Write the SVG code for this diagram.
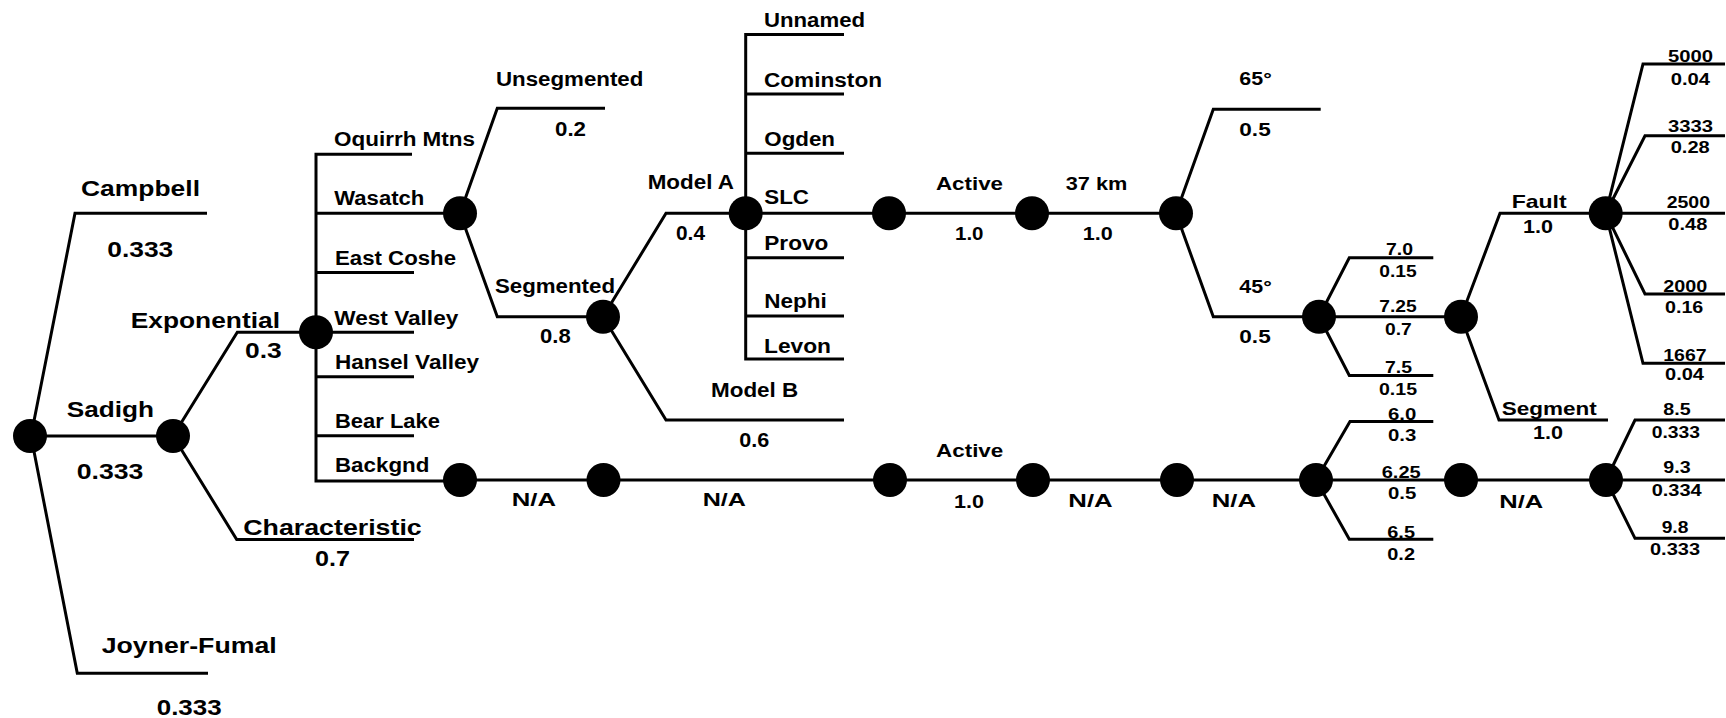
<svg xmlns="http://www.w3.org/2000/svg" width="1726" height="718" viewBox="0 0 1726 718">
  <style>
    .ln { fill: none; stroke: #000; stroke-width: 3; stroke-linejoin: miter; stroke-linecap: butt; }
    .nd { fill: #000; }
    text { font-family: "Liberation Sans", Arial, Helvetica, sans-serif; font-weight: bold; fill: #000; }
    .xl { font-size: 22px; }
    .lg { font-size: 20px; }
    .md { font-size: 19px; }
    .sm { font-size: 16px; }
  </style>
  <rect width="1726" height="718" fill="#fff"/>

  <!-- branch lines -->
  <g id="connectors" class="ln">
    <!-- attenuation models -->
    <path d="M31 436 L75 213.3 H207"/>
    <path d="M30 436 H173"/>
    <path d="M31 436 L77.3 673.3 H208"/>
    <!-- magnitude distribution -->
    <path d="M173 436 L237.3 332.3 H316"/>
    <path d="M173 436 L236.7 539.5 H414"/>
    <!-- source list -->
    <path d="M412 154.3 H316 V481 H460"/>
    <path d="M316 213.3 H460"/>
    <path d="M316 272.5 H414"/>
    <path d="M316 332.3 H414"/>
    <path d="M316 376.7 H414"/>
    <path d="M316 435.7 H414"/>
    <!-- segmentation -->
    <path d="M460 213.3 L497.3 108.3 H605"/>
    <path d="M460 213.3 L497.3 316.7 H603"/>
    <path d="M603 316.7 L666 213.3 H745.7"/>
    <path d="M603 316.7 L666 420 H844"/>
    <!-- segments -->
    <path d="M844 34.5 H745.7 V359 H844"/>
    <path d="M745.7 94 H844"/>
    <path d="M745.7 153.3 H844"/>
    <path d="M745.7 257.7 H844"/>
    <path d="M745.7 316 H844"/>
    <!-- SLC chain -->
    <path d="M745.7 213.3 H1176"/>
    <path d="M1176 213.3 L1213.3 109.3 H1320.7"/>
    <path d="M1176 213.3 L1213.3 316.7 H1319"/>
    <path d="M1319 316.7 L1349.3 257.7 H1433.3"/>
    <path d="M1319 316.7 H1461"/>
    <path d="M1319 316.7 L1349.3 375.5 H1433.3"/>
    <path d="M1461 316.7 L1500 213.3 H1605.7"/>
    <path d="M1461 316.7 L1499 420 H1608"/>
    <path d="M1605.7 213.3 L1643 64 H1725"/>
    <path d="M1605.7 213.3 L1645 135.7 H1725"/>
    <path d="M1605.7 213.3 H1725"/>
    <path d="M1605.7 213.3 L1645 294 H1725"/>
    <path d="M1605.7 213.3 L1643 363.3 H1725"/>
    <!-- background chain -->
    <path d="M460 480 H1316"/>
    <path d="M1316 480 L1350 421.5 H1433.3"/>
    <path d="M1316 480 H1606"/>
    <path d="M1316 480 L1349.3 539.3 H1433.3"/>
    <path d="M1606 480 L1635 420 H1725"/>
    <path d="M1606 480 H1725"/>
    <path d="M1606 480 L1635 538.3 H1725"/>
  </g>

  <!-- chance nodes -->
  <g id="node-root"><circle class="nd" cx="30" cy="436" r="17"/></g>
  <g id="node-sadigh"><circle class="nd" cx="173" cy="436" r="17"/></g>
  <g id="node-exponential"><circle class="nd" cx="316" cy="332.3" r="17"/></g>
  <g id="node-wasatch"><circle class="nd" cx="460" cy="213.3" r="17"/></g>
  <g id="node-segmented"><circle class="nd" cx="603" cy="316.7" r="17"/></g>
  <g id="node-model-a"><circle class="nd" cx="745.7" cy="213.3" r="17"/></g>
  <g id="node-slc"><circle class="nd" cx="889" cy="213.3" r="17"/></g>
  <g id="node-active"><circle class="nd" cx="1032" cy="213.3" r="17"/></g>
  <g id="node-width"><circle class="nd" cx="1176" cy="213.3" r="17"/></g>
  <g id="node-dip45"><circle class="nd" cx="1319" cy="316.7" r="17"/></g>
  <g id="node-mag"><circle class="nd" cx="1461" cy="316.7" r="17"/></g>
  <g id="node-fault"><circle class="nd" cx="1605.7" cy="213.3" r="17"/></g>
  <g id="node-backgnd"><circle class="nd" cx="460" cy="480" r="17"/></g>
  <g id="node-bg-seg"><circle class="nd" cx="603.5" cy="480" r="17"/></g>
  <g id="node-bg-model"><circle class="nd" cx="890" cy="480" r="17"/></g>
  <g id="node-bg-active"><circle class="nd" cx="1033" cy="480" r="17"/></g>
  <g id="node-bg-width"><circle class="nd" cx="1177" cy="480" r="17"/></g>
  <g id="node-bg-dip"><circle class="nd" cx="1316" cy="480" r="17"/></g>
  <g id="node-bg-mag"><circle class="nd" cx="1461" cy="480" r="17"/></g>
  <g id="node-bg-rate"><circle class="nd" cx="1606" cy="480" r="17"/></g>

  <!-- branch labels and weights -->
  <g id="labels-attenuation" class="xl">
    <text x="81" y="196" textLength="119" lengthAdjust="spacingAndGlyphs">Campbell</text>
    <text x="107.3" y="257" textLength="66" lengthAdjust="spacingAndGlyphs">0.333</text>
    <text x="66.7" y="416.7" textLength="87.3" lengthAdjust="spacingAndGlyphs">Sadigh</text>
    <text x="76.7" y="479" textLength="66.6" lengthAdjust="spacingAndGlyphs">0.333</text>
    <text x="101.7" y="653" textLength="175" lengthAdjust="spacingAndGlyphs">Joyner-Fumal</text>
    <text x="156.7" y="715" textLength="65" lengthAdjust="spacingAndGlyphs">0.333</text>
  </g>
  <g id="labels-magnitude" class="xl">
    <text x="130.7" y="328" textLength="149.3" lengthAdjust="spacingAndGlyphs">Exponential</text>
    <text x="245" y="358" textLength="36.7" lengthAdjust="spacingAndGlyphs">0.3</text>
    <text x="243.3" y="535" textLength="178.4" lengthAdjust="spacingAndGlyphs">Characteristic</text>
    <text x="315" y="566" textLength="35" lengthAdjust="spacingAndGlyphs">0.7</text>
  </g>
  <g id="labels-sources" class="lg">
    <text x="334" y="146" textLength="141" lengthAdjust="spacingAndGlyphs">Oquirrh Mtns</text>
    <text x="334.3" y="205" textLength="90" lengthAdjust="spacingAndGlyphs">Wasatch</text>
    <text x="335" y="265" textLength="121" lengthAdjust="spacingAndGlyphs">East Coshe</text>
    <text x="334.3" y="325" textLength="124" lengthAdjust="spacingAndGlyphs">West Valley</text>
    <text x="335" y="369" textLength="144" lengthAdjust="spacingAndGlyphs">Hansel Valley</text>
    <text x="335" y="427.7" textLength="105" lengthAdjust="spacingAndGlyphs">Bear Lake</text>
    <text x="335" y="472.3" textLength="94.3" lengthAdjust="spacingAndGlyphs">Backgnd</text>
  </g>
  <g id="labels-segmentation" class="lg">
    <text x="496" y="86" textLength="147.3" lengthAdjust="spacingAndGlyphs">Unsegmented</text>
    <text x="555" y="136" textLength="31" lengthAdjust="spacingAndGlyphs">0.2</text>
    <text x="495" y="293.3" textLength="120" lengthAdjust="spacingAndGlyphs">Segmented</text>
    <text x="540" y="343.3" textLength="30.7" lengthAdjust="spacingAndGlyphs">0.8</text>
    <text x="647.7" y="189.3" textLength="86.3" lengthAdjust="spacingAndGlyphs">Model A</text>
    <text x="676" y="240" textLength="29" lengthAdjust="spacingAndGlyphs">0.4</text>
    <text x="711" y="397.3" textLength="87.3" lengthAdjust="spacingAndGlyphs">Model B</text>
    <text x="739.3" y="447.3" textLength="30" lengthAdjust="spacingAndGlyphs">0.6</text>
  </g>
  <g id="labels-segments" class="lg">
    <text x="764" y="27.3" textLength="101" lengthAdjust="spacingAndGlyphs">Unnamed</text>
    <text x="764" y="86.5" textLength="118" lengthAdjust="spacingAndGlyphs">Cominston</text>
    <text x="764.3" y="145.5" textLength="70.7" lengthAdjust="spacingAndGlyphs">Ogden</text>
    <text x="764.3" y="203.5" textLength="44.7" lengthAdjust="spacingAndGlyphs">SLC</text>
    <text x="764.3" y="249.5" textLength="64" lengthAdjust="spacingAndGlyphs">Provo</text>
    <text x="764.3" y="307.8" textLength="62.5" lengthAdjust="spacingAndGlyphs">Nephi</text>
    <text x="764" y="352.8" textLength="67" lengthAdjust="spacingAndGlyphs">Levon</text>
  </g>
  <g id="labels-slc" class="md">
    <text x="936" y="190" textLength="67" lengthAdjust="spacingAndGlyphs">Active</text>
    <text x="955" y="240" textLength="28.5" lengthAdjust="spacingAndGlyphs">1.0</text>
    <text x="1065.7" y="190" textLength="61.6" lengthAdjust="spacingAndGlyphs">37 km</text>
    <text x="1082.7" y="240" textLength="30" lengthAdjust="spacingAndGlyphs">1.0</text>
    <text x="1239.3" y="85" textLength="32.4" lengthAdjust="spacingAndGlyphs">65°</text>
    <text x="1239.3" y="136" textLength="31.4" lengthAdjust="spacingAndGlyphs">0.5</text>
    <text x="1239.3" y="293.3" textLength="32.4" lengthAdjust="spacingAndGlyphs">45°</text>
    <text x="1239.3" y="343.3" textLength="31.4" lengthAdjust="spacingAndGlyphs">0.5</text>
  </g>
  <g id="labels-slc-mag" class="sm">
    <text x="1386" y="255" textLength="27" lengthAdjust="spacingAndGlyphs">7.0</text>
    <text x="1379.3" y="277.3" textLength="37.4" lengthAdjust="spacingAndGlyphs">0.15</text>
    <text x="1379.3" y="311.7" textLength="37.4" lengthAdjust="spacingAndGlyphs">7.25</text>
    <text x="1385" y="335" textLength="26.7" lengthAdjust="spacingAndGlyphs">0.7</text>
    <text x="1385" y="373" textLength="27" lengthAdjust="spacingAndGlyphs">7.5</text>
    <text x="1379" y="395" textLength="38" lengthAdjust="spacingAndGlyphs">0.15</text>
  </g>
  <g id="labels-slc-type">
    <text class="md" x="1511.7" y="207.7" textLength="55" lengthAdjust="spacingAndGlyphs">Fault</text>
    <text class="md" x="1523" y="232.7" textLength="30" lengthAdjust="spacingAndGlyphs">1.0</text>
    <text class="md" x="1501.7" y="415" textLength="95" lengthAdjust="spacingAndGlyphs">Segment</text>
    <text class="md" x="1533" y="439.3" textLength="30" lengthAdjust="spacingAndGlyphs">1.0</text>
  </g>
  <g id="labels-slc-rate" class="sm">
    <text x="1668" y="61.7" textLength="45" lengthAdjust="spacingAndGlyphs">5000</text>
    <text x="1670.7" y="85" textLength="39.3" lengthAdjust="spacingAndGlyphs">0.04</text>
    <text x="1668" y="131.7" textLength="45" lengthAdjust="spacingAndGlyphs">3333</text>
    <text x="1670.7" y="153.3" textLength="39" lengthAdjust="spacingAndGlyphs">0.28</text>
    <text x="1666.7" y="208.3" textLength="43.3" lengthAdjust="spacingAndGlyphs">2500</text>
    <text x="1668.3" y="230" textLength="39" lengthAdjust="spacingAndGlyphs">0.48</text>
    <text x="1663.3" y="291.7" textLength="44" lengthAdjust="spacingAndGlyphs">2000</text>
    <text x="1665" y="312.7" textLength="38.3" lengthAdjust="spacingAndGlyphs">0.16</text>
    <text x="1663.3" y="360.7" textLength="43.3" lengthAdjust="spacingAndGlyphs">1667</text>
    <text x="1665" y="380" textLength="39" lengthAdjust="spacingAndGlyphs">0.04</text>
  </g>
  <g id="labels-background" class="md">
    <text x="511.7" y="505.7" textLength="44.3" lengthAdjust="spacingAndGlyphs">N/A</text>
    <text x="702.7" y="505.7" textLength="43.3" lengthAdjust="spacingAndGlyphs">N/A</text>
    <text x="936" y="457.3" textLength="67.3" lengthAdjust="spacingAndGlyphs">Active</text>
    <text x="954" y="508.3" textLength="30" lengthAdjust="spacingAndGlyphs">1.0</text>
    <text x="1068.3" y="506.7" textLength="44.4" lengthAdjust="spacingAndGlyphs">N/A</text>
    <text x="1211.7" y="506.7" textLength="44.3" lengthAdjust="spacingAndGlyphs">N/A</text>
    <text x="1499.3" y="507.7" textLength="44" lengthAdjust="spacingAndGlyphs">N/A</text>
  </g>
  <g id="labels-background-mag" class="sm">
    <text x="1388" y="420" textLength="28.3" lengthAdjust="spacingAndGlyphs">6.0</text>
    <text x="1388" y="441" textLength="28.3" lengthAdjust="spacingAndGlyphs">0.3</text>
    <text x="1381.7" y="478.3" textLength="39" lengthAdjust="spacingAndGlyphs">6.25</text>
    <text x="1388" y="499.3" textLength="28.3" lengthAdjust="spacingAndGlyphs">0.5</text>
    <text x="1387.3" y="537.7" textLength="27.7" lengthAdjust="spacingAndGlyphs">6.5</text>
    <text x="1387.3" y="560" textLength="27.7" lengthAdjust="spacingAndGlyphs">0.2</text>
  </g>
  <g id="labels-background-rate" class="sm">
    <text x="1663.3" y="415" textLength="27.3" lengthAdjust="spacingAndGlyphs">8.5</text>
    <text x="1651.7" y="438.3" textLength="48.3" lengthAdjust="spacingAndGlyphs">0.333</text>
    <text x="1663.3" y="473.3" textLength="27.3" lengthAdjust="spacingAndGlyphs">9.3</text>
    <text x="1651.7" y="496" textLength="50" lengthAdjust="spacingAndGlyphs">0.334</text>
    <text x="1661.7" y="533.3" textLength="26.7" lengthAdjust="spacingAndGlyphs">9.8</text>
    <text x="1650" y="555" textLength="50" lengthAdjust="spacingAndGlyphs">0.333</text>
  </g>
</svg>
